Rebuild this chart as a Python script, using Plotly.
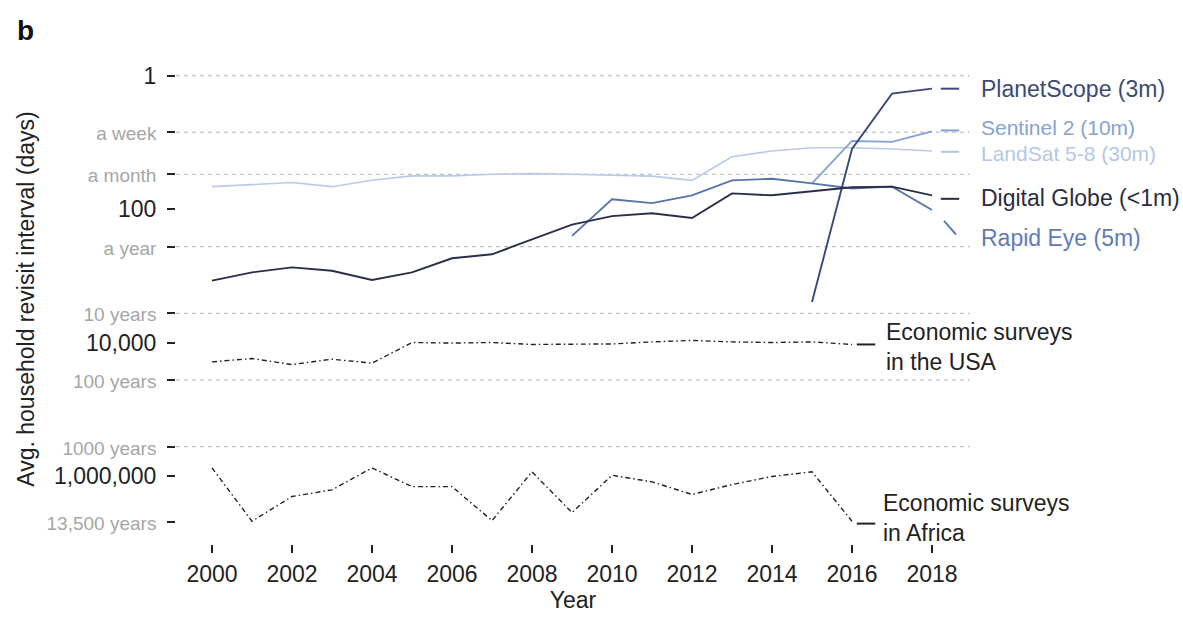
import math
import plotly.graph_objects as go

# ---------------- data (days between revisits) ----------------
years = list(range(2000, 2019))
econ_years = list(range(2000, 2017))

landsat = [46, 42.6, 39.8, 46, 36.8, 31.7, 31.7, 30, 29.3, 30,
           31, 32, 37, 16.4, 13.4, 12, 12, 12.5, 13.4]
digital_globe = [1178, 887, 748, 838, 1153, 887, 545, 475, 285, 171,
                 127, 115, 136, 58, 62, 54, 47, 46, 62]
rapid_eye_years = list(range(2009, 2019))
rapid_eye = [251, 71, 81, 62, 37, 35, 41, 49, 46, 103]
planet_years = [2015, 2016, 2017, 2018]
planetscope = [2470, 12.5, 1.85, 1.56]
sentinel_years = [2015, 2016, 2017, 2018]
sentinel2 = [41, 9.5, 9.8, 6.8]

usa = [19500, 17400, 21400, 17800, 20400, 10000, 10200, 10000, 10700,
       10500, 10500, 9800, 9300, 9800, 10000, 9800, 10700]
africa = [760000, 4800000, 2040000, 1620000, 760000, 1450000, 1450000,
          4700000, 870000, 3550000, 980000, 1230000, 1900000, 1350000,
          1020000, 870000, 4800000]

tick_vals = [1, 7, 30, 100, 365, 3650, 10000, 36500, 365000, 1000000, 4927500]
tick_labels = ["1", "a week", "a month", "100", "a year", "10 years", "10,000",
               "100 years", "1000 years", "1,000,000", "13,500 years"]
tick_is_time = [False, True, True, False, True, True, False, True, True, False, True]
grid_vals = [1, 7, 30, 365, 3650, 36500, 365000]
x_ticks = list(range(2000, 2019, 2))

# ---------------- styling ----------------
FONT = "Liberation Sans, Arial, Helvetica, sans-serif"
C_PLANET = "#3a4a78"
C_SENT = "#86a2d4"
C_LAND = "#b7cae8"
C_DG = "#2a2e48"
C_RE = "#5673ad"
C_ECON = "#222222"
FS = 23

fig = go.Figure()

def add_line(x, y, color, width=1.8, dash=None):
    fig.add_trace(go.Scatter(x=x, y=y, mode="lines",
                             line=dict(color=color, width=width, dash=dash),
                             hoverinfo="skip", showlegend=False))

add_line(years, landsat, C_LAND, 1.6)
add_line(sentinel_years, sentinel2, C_SENT, 1.8)
add_line(rapid_eye_years, rapid_eye, C_RE, 1.8)
add_line(planet_years, planetscope, C_PLANET, 1.9)
add_line(years, digital_globe, C_DG, 1.9)
add_line(econ_years, usa, C_ECON, 1.4, "5px,3px,1.5px,3px")
add_line(econ_years, africa, C_ECON, 1.4, "5px,3px,1.5px,3px")

# dashed reference lines at the time-unit ticks
for gv in grid_vals:
    fig.add_shape(type="line", xref="paper", x0=0, x1=1, yref="y", y0=gv, y1=gv,
                  line=dict(color="#b3b3b3", width=1, dash="4px,4px"), layer="below")

# series labels with short connectors (label y given in days)
labels = [
    dict(text="PlanetScope (3m)", color="#3c4a72", y=1.56, c0=1.56, c1=1.56, fs=FS),
    dict(text="Sentinel 2 (10m)", color="#86a2d2", y=6.0, c0=6.6, c1=6.6, fs=21),
    dict(text="LandSat 5-8 (30m)", color="#b4c7e5", y=14.6, c0=13.8, c1=13.8, fs=21),
    dict(text="Digital Globe (<1m)", color="#2a2d40", y=68, c0=70, c1=70, fs=FS),
    dict(text="Rapid Eye (5m)", color="#5e7cb8", y=270, c0=150, c1=240, fs=FS),
]
for lb in labels:
    fig.add_annotation(x=1.0126, y=math.log10(lb["y"]), xref="paper", yref="y",
                       text=lb["text"], showarrow=False, xanchor="left",
                       yanchor="middle", borderpad=0,
                       font=dict(family=FONT, size=lb["fs"], color=lb["color"]))
    if lb["c0"] == lb["c1"]:
        fig.add_shape(type="line", x0=2018.22, x1=2018.68, y0=lb["c0"], y1=lb["c1"],
                      line=dict(color=lb["color"], width=2))
    else:
        fig.add_shape(type="line", x0=2018.3, x1=2018.6, y0=lb["c0"], y1=lb["c1"],
                      line=dict(color=lb["color"], width=2))

econ_labels = [
    dict(text="Economic surveys<br>in the USA", y=11800, c=10700, x=2016.8),
    dict(text="Economic surveys<br>in Africa", y=4300000, c=5200000, x=2016.72),
]
for lb in econ_labels:
    fig.add_annotation(x=lb["x"], y=math.log10(lb["y"]), xref="x", yref="y",
                       text=lb["text"], showarrow=False, xanchor="left",
                       yanchor="middle", align="left",
                       font=dict(family=FONT, size=FS, color=C_ECON))
    fig.add_shape(type="line", x0=2016.12, x1=2016.58, y0=lb["c"], y1=lb["c"],
                  line=dict(color=C_ECON, width=2))

# y title and panel letter
fig.add_annotation(xref="paper", yref="paper", x=-0.19, y=0.505,
                   text="Avg. household revisit interval (days)", textangle=-90,
                   showarrow=False, xanchor="center", yanchor="middle",
                   font=dict(family=FONT, size=FS, color="#222"))
fig.add_annotation(xref="paper", yref="paper", x=-0.203, y=1.06, text="<b>b</b>",
                   showarrow=False, xanchor="left", yanchor="middle",
                   font=dict(family=FONT, size=28, color="#111"))

ticktext = []
for lab, is_t in zip(tick_labels, tick_is_time):
    if is_t:
        ticktext.append('<span style="font-size:19px;color:#a6a6a6">%s</span>' % lab)
    else:
        ticktext.append(lab)

fig.update_layout(
    width=1183, height=620,
    margin=dict(l=176, r=213, t=60, b=70),
    paper_bgcolor="white", plot_bgcolor="white",
    font=dict(family=FONT, color="#222"),
    xaxis=dict(range=[1999.1, 2018.95], tickvals=x_ticks, ticks="outside",
               ticklen=8, tickwidth=1.5, tickcolor="#222", showgrid=False,
               zeroline=False, showline=False, ticklabelstandoff=1,
               tickfont=dict(family=FONT, size=FS, color="#222"),
               title=dict(text="Year", font=dict(family=FONT, size=FS, color="#222"),
                          standoff=5)),
    yaxis=dict(type="log", range=[7.022, -0.237], tickvals=tick_vals,
               ticktext=ticktext, ticks="outside", ticklen=8, tickwidth=1.5,
               tickcolor="#222", showgrid=False, zeroline=False, showline=False,
               ticklabelstandoff=6, automargin=False,
               tickfont=dict(family=FONT, size=FS, color="#222")),
)

fig.write_html("out.html", config={"displayModeBar": False},
               post_script="document.body.style.margin='0px';")
